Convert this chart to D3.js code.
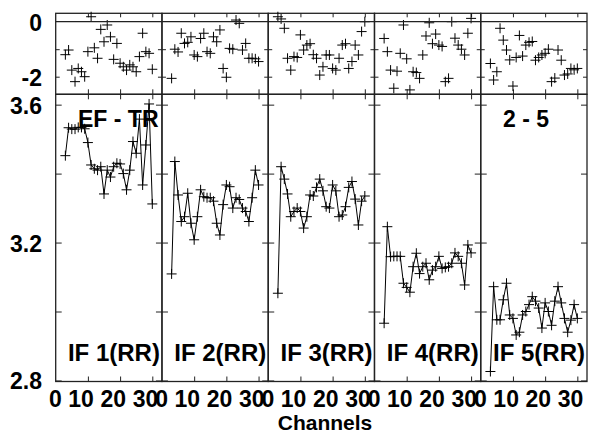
<!DOCTYPE html>
<meta charset="utf-8">
<title>IF bandpass</title>
<script src="https://d3js.org/d3.v7.min.js"></script>
<style>
  body { margin: 0; background: #fff; }
  text { font-family: "Liberation Sans", Arial, Helvetica, sans-serif; font-weight: bold; fill: #000; }
  .frame { fill: none; stroke: #222; stroke-width: 1.3px; }
  .tick line { stroke: #222; stroke-width: 1px; }
  .mark { fill: none; stroke: #000; stroke-width: 1px; }
  .fit { fill: none; stroke: #000; stroke-width: 1px; }
</style>
<div id="chart"></div>
<script>

// channels plotted in every IF panel
var channels = [3,4,5,6,7,8,9,10,11,12,13,14,15,16,17,18,19,20,21,22,23,24,25,26,27,28,29,30];

var ifNames = ["IF 1(RR)", "IF 2(RR)", "IF 3(RR)", "IF 4(RR)", "IF 5(RR)"];

// lower panels: amplitude per channel
var amp1 = [3.452,3.533,3.529,3.529,3.534,3.534,3.530,3.490,3.425,3.414,3.410,3.420,3.341,3.410,
            3.390,3.420,3.430,3.428,3.400,3.353,3.410,3.493,3.459,3.558,3.367,3.483,3.602,3.312];
var amp2 = [3.109,3.435,3.338,3.261,3.275,3.343,3.256,3.208,3.275,3.353,3.333,3.330,3.330,3.320,
            3.256,3.222,3.310,3.367,3.362,3.300,3.330,3.325,3.300,3.290,3.261,3.330,3.410,3.367];
var amp3 = [3.053,3.420,3.384,3.341,3.275,3.290,3.300,3.290,3.242,3.275,3.338,3.335,3.360,3.384,
            3.350,3.304,3.300,3.367,3.350,3.275,3.280,3.304,3.360,3.377,3.326,3.251,3.320,3.335];
var amp4 = [2.966,3.246,3.159,3.160,3.160,3.160,3.082,3.070,3.056,3.130,3.169,3.110,3.130,3.140,
            3.092,3.120,3.130,3.160,3.125,3.128,3.130,3.140,3.170,3.160,3.140,3.077,3.193,3.170];
var amp5 = [2.826,3.072,2.976,2.976,3.034,3.082,2.990,2.980,2.932,2.940,2.990,3.000,3.020,3.043,
            3.030,3.010,2.952,3.025,3.000,2.960,3.030,3.072,3.025,2.980,2.940,2.975,3.020,2.980];

// upper panels: residual per channel
var res1 = [-1.20,-1.03,-1.76,-2.18,-1.70,-1.82,-2.00,-1.09,0.18,-0.95,-1.33,-0.28,-0.73,-0.12,
            -0.55,-1.37,-0.79,-1.51,-1.64,-1.76,-1.57,-1.64,-1.82,-1.27,-0.42,-1.09,-1.15,-1.73];
var res2 = [-2.06,-1.00,-1.10,-0.42,-0.79,-0.75,-0.55,-1.21,-1.27,-0.61,-0.42,-1.09,-1.15,-0.55,
            -0.73,-0.30,-1.70,-2.02,-0.97,-1.00,0.06,-0.06,-1.03,-0.79,-1.33,-1.33,-1.35,-1.45];
var res3 = [0.18,0.10,-0.24,-1.33,-1.76,-1.27,-1.30,-0.48,-1.03,-0.85,-0.80,-1.20,-1.33,-1.94,
            -1.64,-1.21,-1.21,-1.70,-1.76,-1.33,-0.85,-0.80,-1.70,-1.45,-0.85,-1.21,-0.36,0.00];
var res4 = [-0.61,-1.09,-1.76,-2.42,-1.80,-1.15,-0.12,-1.35,-2.48,-1.82,-1.85,-2.06,-1.21,-0.52,
            -0.04,-0.80,-0.45,-0.85,-0.90,-2.18,-2.06,0.00,-0.60,-0.85,-1.00,-1.21,-0.42,0.12];
var res5 = [-1.52,-2.12,-1.82,-0.24,-0.67,-1.03,-1.39,-2.34,-1.30,-0.50,-1.25,-0.85,-0.75,-0.72,
            -1.40,-1.30,-1.21,-1.15,-1.00,-2.18,-2.05,-1.03,-1.40,-1.94,-1.90,-1.70,-1.75,-1.70];

var amps = [amp1, amp2, amp3, amp4, amp5];
var resids = [res1, res2, res3, res4, res5];

var xTicks = [0, 10, 20, 30];
var ampTicks = [2.8, 3.0, 3.2, 3.4, 3.6];
var ampLabels = [2.8, 3.2, 3.6];
var resTicks = [-2, -1];
var resLabels = [0, -2];

var width = 589, height = 435;
var plotL = 55.7, plotR = 587, plotT = 13.3, plotM = 94.3, plotB = 381.5;
var pw = (plotR - plotL) / 5;

var svg = d3.select("#chart").append("svg")
    .attr("width", width)
    .attr("height", height);

var yRes = d3.scaleLinear().domain([-2.64, 0.305]).range([plotM, plotT]);
var yAmp = d3.scaleLinear().domain([2.797, 3.63]).range([plotB, plotM]);

var cross = "M-5,0H5M0,-5V5";

function axis(gen, tx, ty) {
  var g = svg.append("g").attr("transform", "translate(" + tx + "," + ty + ")").call(gen);
  g.select(".domain").remove();
  return g;
}

amps.forEach(function(amp, i) {
  var x = d3.scaleLinear().domain([0, 33]).range([plotL + i * pw, plotL + (i + 1) * pw]);
  var x0 = x(0), x1 = x(33);

  // ticks on all four sides of both boxes
  var xt = xTicks.slice(1);
  axis(d3.axisTop(x).tickValues(xt).tickSize(5).tickFormat(""), 0, plotB);
  axis(d3.axisBottom(x).tickValues(xt).tickSize(5).tickFormat(""), 0, plotM);
  axis(d3.axisTop(x).tickValues(xt).tickSize(5).tickFormat(""), 0, plotM);
  axis(d3.axisBottom(x).tickValues(xt).tickSize(4).tickFormat(""), 0, plotT);
  axis(d3.axisRight(yAmp).tickValues(ampTicks).tickSize(6).tickFormat(""), x0, 0);
  axis(d3.axisLeft(yAmp).tickValues(ampTicks).tickSize(6).tickFormat(""), x1, 0);
  axis(d3.axisRight(yRes).tickValues(resTicks).tickSize(4).tickFormat(""), x0, 0);
  axis(d3.axisLeft(yRes).tickValues(resTicks).tickSize(4).tickFormat(""), x1, 0);

  // channel labels
  svg.append("g").selectAll("text")
    .data(xTicks)
    .enter().append("text")
      .attr("x", function(d) { return x(d) + 6; })
      .attr("y", 407)
      .attr("text-anchor", "end")
      .style("font-size", "23px")
      .text(function(d) { return d; });

  // frames
  svg.append("rect").attr("class", "frame")
    .attr("x", x0).attr("y", plotM).attr("width", x1 - x0).attr("height", plotB - plotM);
  svg.append("rect").attr("class", "frame")
    .attr("x", x0).attr("y", plotT).attr("width", x1 - x0).attr("height", plotM - plotT);

  // residuals
  svg.append("g").selectAll("path")
    .data(resids[i])
    .enter().append("path")
      .attr("class", "mark")
      .attr("transform", function(d, k) { return "translate(" + x(channels[k]) + "," + yRes(d) + ")"; })
      .attr("d", cross);

  // amplitudes + connecting line
  svg.append("path")
    .datum(amp)
    .attr("class", "fit")
    .attr("d", d3.line()
      .x(function(d, k) { return x(channels[k]); })
      .y(function(d) { return yAmp(d); }));
  svg.append("g").selectAll("path")
    .data(amp)
    .enter().append("path")
      .attr("class", "mark")
      .attr("transform", function(d, k) { return "translate(" + x(channels[k]) + "," + yAmp(d) + ")"; })
      .attr("d", cross);

  svg.append("text")
    .attr("x", x1 - 2)
    .attr("y", 360.5)
    .attr("text-anchor", "end")
    .style("font-size", "24px")
    .text(ifNames[i]);
});

// zero line of the residual box
svg.append("line")
  .attr("x1", plotL).attr("x2", plotR)
  .attr("y1", yRes(0)).attr("y2", yRes(0))
  .attr("stroke", "#222").attr("stroke-width", 1.2);

// y labels
svg.selectAll(".ampLab")
  .data(ampLabels)
  .enter().append("text")
    .attr("class", "ampLab")
    .attr("x", 42)
    .attr("y", function(d) { return yAmp(d) + 9; })
    .attr("text-anchor", "end")
    .style("font-size", "23px")
    .text(function(d) { return d.toFixed(1); });

svg.selectAll(".resLab")
  .data(resLabels)
  .enter().append("text")
    .attr("class", "resLab")
    .attr("x", 42)
    .attr("y", function(d) { return yRes(d) + 9; })
    .attr("text-anchor", "end")
    .style("font-size", "23px")
    .text(function(d) { return d; });

svg.append("text")
  .attr("x", 78).attr("y", 126.7)
  .style("font-size", "23px")
  .text("EF - TR");

svg.append("text")
  .attr("x", 503).attr("y", 126.7)
  .style("font-size", "23px")
  .text("2 - 5");

svg.append("text")
  .attr("x", 325).attr("y", 430)
  .attr("text-anchor", "middle")
  .style("font-size", "21px")
  .text("Channels");

</script>
